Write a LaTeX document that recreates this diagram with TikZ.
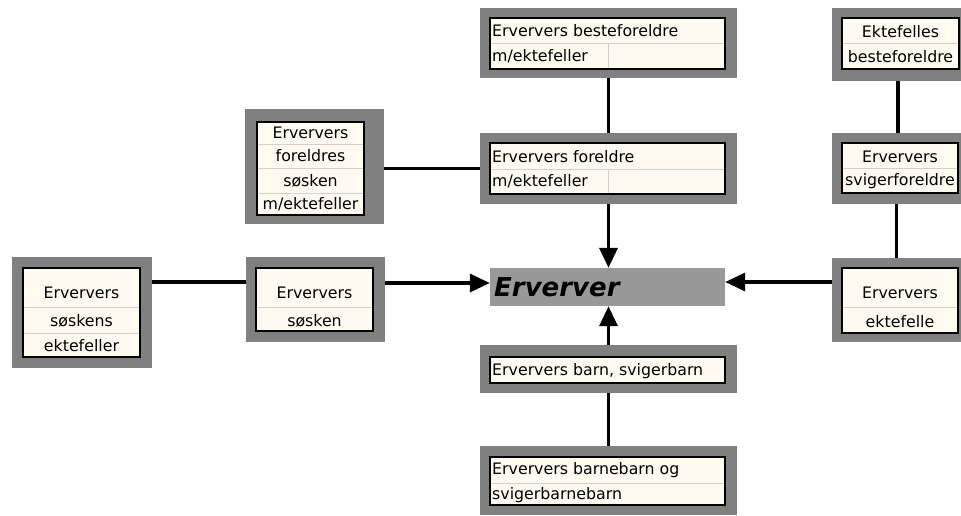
\documentclass[tikz,border=0pt]{standalone}
\usepackage{fontspec}
\setmainfont{DejaVu Sans}
\usetikzlibrary{arrows.meta}
\definecolor{framegray}{HTML}{808080}
\definecolor{egogray}{HTML}{999999}
\definecolor{cream}{HTML}{FFFBF0}
\definecolor{rulegray}{HTML}{D4D0C8}
\tikzset{
  frame/.style={rectangle, fill=framegray, inner sep=0pt},
  cell/.style={fill=cream, draw=black, line width=1.2pt},
  sep/.style={draw=rulegray, line width=0.8pt},
  txt/.style={inner sep=0pt, font=\fontsize{15.8}{18}\selectfont},
  link/.style={line width=3.5pt},
  arr/.style={line width=3.5pt, -{Triangle[length=20pt,width=18pt]}}
}
\begin{document}
\begin{tikzpicture}[x=1pt,y=-1pt]
\useasboundingbox (0,0) rectangle (961,515);
% Erververs besteforeldre
\node[frame, minimum width=257, minimum height=70] (bf) at (608.5,43){};
\draw[cell] (490,18) rectangle (725,69);
\draw[sep] (491,43) -- (724,43);
\draw[sep] (608,44) -- (608,68);
\node[txt, anchor=west] (bft1) at (492,31){Erververs besteforeldre};
\node[txt, anchor=west] (bft2) at (492,56){m/ektefeller};
% Erververs foreldre
\node[frame, minimum width=257, minimum height=71] (fo) at (608.5,168.5){};
\draw[cell] (490,143) rectangle (725,194);
\draw[sep] (491,169) -- (724,169);
\draw[sep] (608,170) -- (608,193);
\node[txt, anchor=west] (fot1) at (492,157){Erververs foreldre};
\node[txt, anchor=west] (fot2) at (492,181){m/ektefeller};
% Erververs foreldres soesken
\node[frame, minimum width=139, minimum height=115] (fs) at (314.5,166.5){};
\draw[cell] (257,122) rectangle (364,215);
\draw[sep] (258,144) -- (363,144);
\draw[sep] (258,168) -- (363,168);
\draw[sep] (258,193) -- (363,193);
\node[txt] (fst1) at (310.5,133){Erververs};
\node[txt] (fst2) at (310.5,156){foreldres};
\node[txt] (fst3) at (310.5,180.5){søsken};
\node[txt] (fst4) at (310.5,204){m/ektefeller};
% Erververs soeskens ektefeller
\node[frame, minimum width=140, minimum height=111] (sk) at (82,312.5){};
\draw[cell] (23,268) rectangle (140,357);
\draw[sep] (24,307) -- (139,307);
\draw[sep] (24,333) -- (139,333);
\node[txt] (skt1) at (81.5,293){Erververs};
\node[txt] (skt2) at (81.5,321){søskens};
\node[txt] (skt3) at (81.5,346){ektefeller};
% Erververs soesken
\node[frame, minimum width=139, minimum height=85] (ss) at (315.5,299.5){};
\draw[cell] (256,268) rectangle (373,331);
\draw[sep] (257,307) -- (372,307);
\node[txt] (sst1) at (314.5,293){Erververs};
\node[txt] (sst2) at (314.5,321){søsken};
% Erverver
\node[frame, fill=egogray, minimum width=235, minimum height=38] (erv) at (607.5,287){};
\node[inner sep=0pt, anchor=west, font=\fontsize{26}{30}\selectfont\bfseries\itshape] (ervt) at (494,287){Erverver};
% Erververs barn, svigerbarn
\node[frame, minimum width=257, minimum height=48] (ba) at (608.5,369){};
\draw[cell] (490,357) rectangle (725,383);
\node[txt, anchor=west] (bat1) at (492,371){Erververs barn, svigerbarn};
% Erververs barnebarn og svigerbarnebarn
\node[frame, minimum width=257, minimum height=69] (bb) at (608.5,480.5){};
\draw[cell] (490,457) rectangle (725,505);
\draw[sep] (491,483) -- (724,483);
\node[txt, anchor=west] (bbt1) at (492,470){Erververs barnebarn og};
\node[txt, anchor=west] (bbt2) at (492,495){svigerbarnebarn};
% Ektefelles besteforeldre
\node[frame, minimum width=129, minimum height=73] (ebf) at (896.5,44.5){};
\draw[cell] (842,18) rectangle (959,69);
\draw[sep] (843,43) -- (958,43);
\node[txt] (ebft1) at (900.5,32){Ektefelles};
\node[txt] (ebft2) at (900.5,57){besteforeldre};
% Erververs svigerforeldre
\node[frame, minimum width=129, minimum height=71] (sf) at (896.5,168.5){};
\draw[cell] (842,143) rectangle (958,193);
\draw[sep] (843,168) -- (957,168);
\node[txt] (sft1) at (900,157){Erververs};
\node[txt] (sft2) at (900,181){svigerforeldre};
% Erververs ektefelle
\node[frame, minimum width=129, minimum height=84] (ek) at (896.5,300){};
\draw[cell] (842,268) rectangle (958,333);
\draw[sep] (843,307) -- (957,307);
\node[txt] (ekt1) at (900,293){Erververs};
\node[txt] (ekt2) at (900,322){ektefelle};
% connectors
\draw[link] (bf.south) -- (fo.north);
\draw[link] (fs.east |- fo.west) -- (fo.west);
\draw[arr] (fo.south) -- (fo.south |- erv.north);
\draw[link] ([yshift=5]sk.east |- erv.west) -- ([yshift=5]ss.west |- erv.west);
\draw[arr] ([yshift=4]ss.east |- erv.west) -- ([yshift=4]erv.west);
\draw[arr] ([yshift=5]ek.west |- erv.east) -- ([yshift=5]erv.east);
\draw[arr] (ba.north) -- (ba.north |- erv.south);
\draw[link] (ba.south) -- (bb.north);
\draw[link] ([xshift=1.5]ebf.south) -- ([xshift=1.5]sf.north);
\draw[link] (sf.south) -- (ek.north);

\end{tikzpicture}
\end{document}
